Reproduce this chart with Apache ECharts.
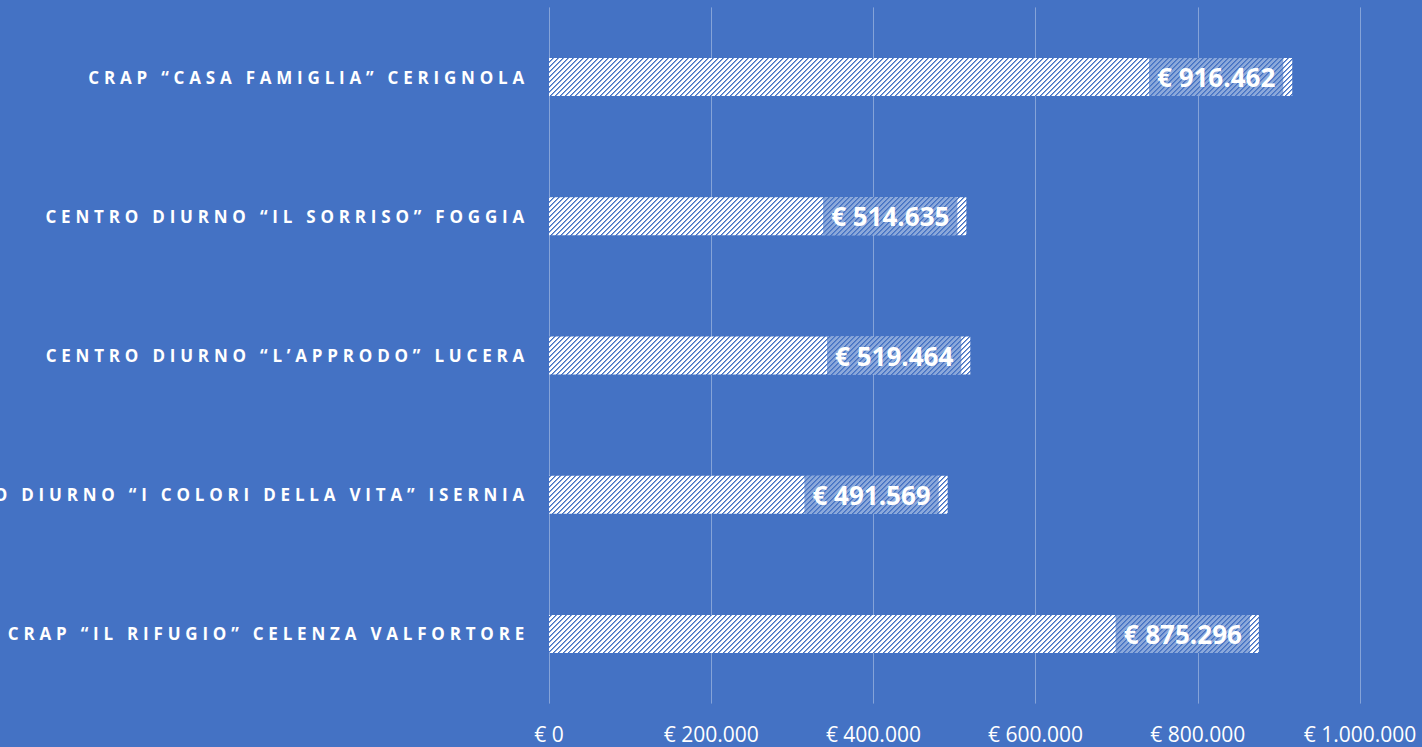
<!DOCTYPE html>
<html>
<head>
<meta charset="utf-8">
<style>
  html, body { margin: 0; padding: 0; background: #4472C4; }
  #chart { width: 1422px; height: 747px; }
</style>
<script src="https://cdn.jsdelivr.net/npm/echarts@6/dist/echarts.min.js"></script>
</head>
<body>
<div id="chart"></div>
<script>
const categories = [
  'CRAP “CASA FAMIGLIA” CERIGNOLA',
  'CENTRO DIURNO “IL SORRISO” FOGGIA',
  'CENTRO DIURNO “L’APPRODO” LUCERA',
  'CENTRO DIURNO “I COLORI DELLA VITA” ISERNIA',
  'CRAP “IL RIFUGIO” CELENZA VALFORTORE'
];
const values = [916462, 514635, 519464, 491569, 875296];
const axisMin = 0;
const axisMax = 1000000;
const axisStep = 200000;

function fmt(v) {
  return '€ ' + String(Math.round(v)).replace(/\B(?=(\d{3})+(?!\d))/g, '.');
}

// hatch pattern: white with blue "/" diagonal lines
const tile = document.createElement('canvas');
const P = 5;
tile.width = P; tile.height = P;
const tctx = tile.getContext('2d');
for (let y = 0; y < P; y++) {
  for (let x = 0; x < P; x++) {
    const k = (x + y) % P;
    tctx.fillStyle = k === 0 ? '#4472C4' : (k === 1 ? '#86a3da' : '#ffffff');
    tctx.fillRect(x, y, 1, 1);
  }
}

const chart = echarts.init(document.getElementById('chart'), null, { renderer: 'svg' });
const option = {
  backgroundColor: '#4472C4',
  animation: false,
  grid: { left: 549, right: 62, top: 7.4, bottom: 43.4, containLabel: false },
  xAxis: {
    type: 'value',
    min: axisMin, max: axisMax, interval: axisStep,
    axisLine: { show: false },
    axisTick: { show: false },
    splitLine: { show: true, lineStyle: { color: 'rgba(255,255,255,0.35)', width: 1 } },
    axisLabel: {
      color: '#ffffff', fontFamily: 'Open Sans', fontSize: 21, margin: 20,
      formatter: fmt
    }
  },
  yAxis: {
    type: 'category',
    inverse: true,
    data: categories,
    axisLine: { show: false },
    axisTick: { show: false },
    splitLine: { show: false },
    axisLabel: {
      color: '#ffffff', fontFamily: 'Open Sans', fontWeight: 'bold', fontSize: 17, margin: 20
    }
  },
  series: [{
    type: 'bar',
    data: values,
    barWidth: 38,
    itemStyle: { color: { image: tile, repeat: 'repeat' } },
    label: {
      show: true,
      position: 'insideRight',
      distance: 9,
      formatter: p => fmt(p.value),
      color: '#ffffff',
      fontFamily: 'Open Sans',
      fontWeight: 'bold',
      fontSize: 26,
      lineHeight: 38,
      padding: [0, 8],
      backgroundColor: 'rgba(68,114,196,0.62)'
    }
  }]
};
chart.setOption(option);

function spaceLabels() {
  const texts = document.querySelectorAll('#chart svg text');
  texts.forEach(t => {
    if (categories.indexOf(t.textContent) >= 0) {
      t.style.letterSpacing = '4.8px';
    }
  });
}
spaceLabels();
chart.on('finished', spaceLabels);
</script>
</body>
</html>
